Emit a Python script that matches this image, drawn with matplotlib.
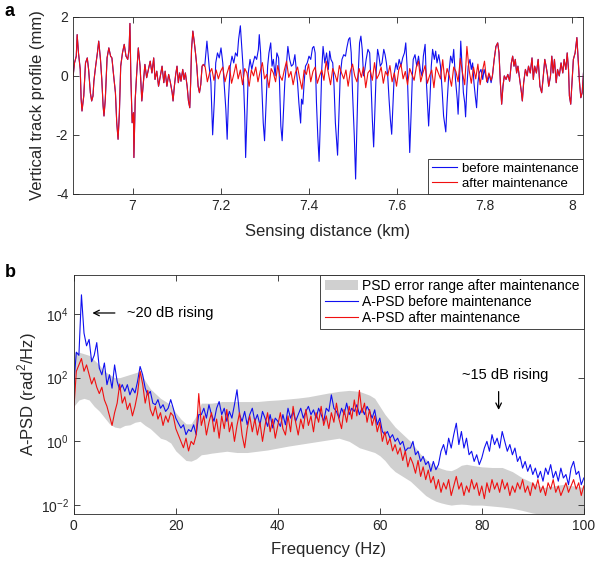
import numpy as np
import matplotlib
matplotlib.use('Agg')
import matplotlib.pyplot as plt
from matplotlib.ticker import FuncFormatter, LogFormatterMathtext, NullLocator, FixedLocator

plt.rcParams['font.family'] = ['Liberation Sans', 'DejaVu Sans']
plt.rcParams['mathtext.fontset'] = 'custom'
plt.rcParams['mathtext.rm'] = 'Liberation Sans'
plt.rcParams['axes.unicode_minus'] = False

# ---- panel a: vertical track profile (km, mm) ----
# part where both curves lie on top of each other (start of section)
shared_start_km = [6.864, 6.868, 6.872, 6.874, 6.877, 6.881, 6.883, 6.885, 6.889, 6.893,
                   6.897, 6.900, 6.904, 6.907, 6.910, 6.912, 6.916, 6.920, 6.923, 6.927,
                   6.930, 6.933, 6.935, 6.938, 6.942, 6.946, 6.950, 6.953, 6.957, 6.961,
                   6.964, 6.967, 6.970, 6.973, 6.977, 6.981, 6.985, 6.989, 6.992, 6.994,
                   6.996, 6.999, 7.002, 7.003, 7.006, 7.009, 7.013, 7.017, 7.021, 7.025,
                   7.028, 7.032, 7.036, 7.040, 7.044, 7.048, 7.051, 7.055, 7.059, 7.063,
                   7.067, 7.071, 7.074, 7.078, 7.082, 7.086, 7.090, 7.092, 7.095, 7.098,
                   7.101, 7.104, 7.107, 7.110, 7.114, 7.117, 7.120, 7.124, 7.127, 7.130,
                   7.132, 7.134, 7.137, 7.140, 7.143, 7.146, 7.149, 7.152, 7.155, 7.158,
                   7.161, 7.164]
shared_start_mm = [-0.12, 0.44, 0.67, 1.40, 0.78, 0.22, -0.78, -1.19, -0.68, 0.44,
                   0.61, 0.22, -0.57, -0.85, -0.68, -0.18, 0.33, 0.78, 1.18, 0.56,
                   -0.12, -1.02, -1.36, -0.79, 0.61, 0.95, 0.67, 0.61, 0.00, -0.57,
                   -1.59, -2.15, -1.25, 0.33, 0.78, 1.07, 0.67, 0.56, 0.90, 1.78,
                   0.00, -1.59, -1.25, -2.77, -0.79, 0.00, 0.95, 0.33, -0.85, -0.12,
                   0.39, -0.06, 0.22, 0.50, 0.10, 0.61, -0.12, 0.16, -0.35, 0.00,
                   0.33, -0.23, 0.16, -0.35, 0.05, -0.23, -0.57, -0.85, -0.35, 0.05,
                   0.33, -0.23, 0.10, -0.18, 0.22, -0.12, 0.10, -0.35, -0.85, -1.08,
                   -0.23, 0.90, 1.52, 1.18, 0.78, 0.33, -0.35, -0.57, -0.29, 0.33,
                   0.39, 0.33]

# before maintenance, middle part with the deep dips
before_mid_km = [7.169, 7.174, 7.178, 7.180, 7.182, 7.186, 7.189, 7.193, 7.197, 7.201,
                 7.205, 7.208, 7.212, 7.215, 7.218, 7.222, 7.226, 7.230, 7.234, 7.238,
                 7.241, 7.245, 7.251, 7.255, 7.257, 7.260, 7.263, 7.267, 7.271, 7.274,
                 7.278, 7.282, 7.286, 7.288, 7.291, 7.294, 7.297, 7.300, 7.303, 7.307,
                 7.310, 7.314, 7.317, 7.320, 7.324, 7.328, 7.332, 7.334, 7.337, 7.340,
                 7.343, 7.346, 7.350, 7.353, 7.357, 7.361, 7.365, 7.369, 7.372, 7.375,
                 7.378, 7.382, 7.384, 7.387, 7.390, 7.393, 7.397, 7.401, 7.405, 7.409,
                 7.412, 7.415, 7.418, 7.421, 7.424, 7.427, 7.430, 7.433, 7.437, 7.441,
                 7.445, 7.448, 7.451, 7.455, 7.458, 7.461, 7.466, 7.469, 7.472, 7.476,
                 7.480, 7.484, 7.487, 7.491, 7.494, 7.497, 7.500, 7.504, 7.507, 7.510,
                 7.513, 7.516, 7.519, 7.522, 7.525, 7.528, 7.531, 7.535, 7.539, 7.542,
                 7.545, 7.548, 7.551, 7.554, 7.557, 7.560, 7.563, 7.567, 7.571, 7.574,
                 7.577, 7.580, 7.583, 7.586, 7.589, 7.592, 7.595, 7.599, 7.602, 7.606,
                 7.610, 7.614, 7.618, 7.621, 7.624, 7.627, 7.630, 7.633, 7.636, 7.638,
                 7.642, 7.646, 7.650, 7.654, 7.658, 7.661, 7.665, 7.668, 7.671, 7.673,
                 7.676, 7.679, 7.682, 7.686, 7.689, 7.692, 7.696, 7.700, 7.704, 7.707,
                 7.712, 7.715, 7.719, 7.723, 7.727, 7.730, 7.734, 7.738, 7.740, 7.743,
                 7.746, 7.749, 7.752, 7.755, 7.757, 7.760, 7.763, 7.767, 7.770, 7.773,
                 7.776, 7.779, 7.782, 7.785, 7.788, 7.792, 7.796, 7.799, 7.803, 7.807,
                 7.811, 7.815]
before_mid_mm = [1.18, 0.33, -0.23, -1.13, -2.00, -0.79, 0.44, 0.78, 0.61, 0.95,
                 0.44, -0.23, -1.13, -2.15, -0.79, 0.33, 0.67, 0.44, 0.78, 0.67,
                 1.24, 1.70, 0.33, -1.36, -2.77, -1.36, 0.10, 0.56, 0.22, 0.44,
                 0.67, 0.56, 0.90, 1.40, 0.78, -0.46, -1.59, -2.20, -1.13, 0.33,
                 0.78, 1.12, 0.33, 0.56, 0.00, 0.78, 0.61, -0.23, -1.70, -2.20,
                 -1.25, -0.23, 0.44, 1.00, 0.56, 0.33, 0.39, 0.72, 0.22, -0.23,
                 -0.91, -1.60, -0.79, -0.96, -0.23, 0.33, 0.44, 0.67, 0.56, 0.95,
                 1.00, 0.78, -0.91, -2.04, -2.90, -1.47, 0.22, 1.00, 0.44, 0.78,
                 0.22, 0.84, 0.56, 0.44, -0.35, -1.59, -2.69, -1.36, 0.00, 0.56,
                 0.72, 0.67, 0.95, 1.24, 1.30, 0.78, -0.57, -2.04, -3.50, -1.70,
                 0.10, 1.12, 1.35, 0.90, 0.00, 0.22, 0.56, 0.90, 0.78, -0.23,
                 -1.47, -2.41, -1.13, 0.22, 0.90, 0.67, 0.33, 0.44, 0.90, 0.72,
                 0.44, 0.00, -0.79, -1.47, -1.98, -0.91, 0.10, 0.44, 0.22, 0.56,
                 0.33, 0.61, 0.78, 1.12, 0.33, -1.13, -2.60, -1.36, 0.00, 0.56,
                 0.72, 0.33, 0.67, 0.22, 0.00, 0.67, 1.07, -0.23, -1.13, -1.70,
                 -0.79, 0.33, 0.90, 0.56, 0.84, 0.44, 0.72, 0.33, -0.57, -1.36,
                 -1.90, -0.91, 0.10, 0.67, 0.44, 0.90, -0.12, -0.79, -1.30, -0.23,
                 1.18, 0.33, -0.57, -0.91, -1.39, -0.35, 0.33, 0.56, 0.22, 0.44,
                 -0.23, -0.68, -1.08, -0.23, 0.10, 0.22, -0.12, 0.22, 0.00, -0.23,
                 0.05, -0.23]

# after maintenance, middle part (every 5 m from 7.165 km)
after_mid_km = np.arange(7.165, 7.8151, 0.005)
after_mid_mm = [0.30, -0.20, 0.10, 0.25, -0.15, 0.20, -0.10, 0.15, 0.30, -0.20,
                0.10, 0.35, -0.25, 0.05, 0.40, -0.10, 0.20, -0.30, 0.25, 0.10,
                -0.35, 0.20, 0.00, 0.30, -0.20, 0.15, 0.45, -0.10, 0.05, -0.40,
                0.25, 0.10, -0.20, 0.35, 0.00, -0.15, 0.20, 0.50, -0.05, 0.15,
                -0.30, 0.10, 0.30, -0.10, -0.45, 0.20, 0.05, 0.40, -0.20, 0.15,
                0.30, -0.25, 0.00, 0.20, -0.15, 0.50, 0.10, -0.30, 0.25, 0.05,
                -0.20, 0.35, 0.10, -0.10, 0.20, -0.35, 0.15, 0.40, 0.00, -0.20,
                0.25, -0.05, 0.30, -0.40, 0.10, 0.20, -0.15, 0.45, -0.10, 0.05,
                0.30, -0.25, 0.15, 0.00, 0.35, -0.20, 0.10, -0.35, 0.20, 0.40,
                -0.10, 0.15, -0.30, 0.25, 0.05, -0.15, 0.30, 0.50, -0.20, 0.10,
                0.35, -0.25, 0.00, 0.20, -0.40, 0.30, 0.10, -0.10, 0.55, -0.20,
                0.25, 0.00, -0.35, 0.30, 0.15, -0.20, 0.60, 0.10, -0.30, 1.00,
                0.20, -0.25, 0.30, -0.10, 0.40, -0.30, 0.15, 0.50, -0.20, 0.10,
                -0.15]

# part where both curves coincide again (end of section)
shared_end_km = [7.818, 7.822, 7.826, 7.830, 7.833, 7.836, 7.839, 7.842, 7.845, 7.849,
                 7.853, 7.857, 7.861, 7.864, 7.867, 7.870, 7.873, 7.876, 7.880, 7.884,
                 7.886, 7.889, 7.893, 7.897, 7.900, 7.904, 7.908, 7.911, 7.914, 7.918,
                 7.922, 7.926, 7.930, 7.933, 7.937, 7.940, 7.943, 7.946, 7.950, 7.953,
                 7.956, 7.959, 7.963, 7.966, 7.970, 7.974, 7.978, 7.981, 7.985, 7.988,
                 7.991, 7.993, 7.996, 7.999, 8.002, 8.006, 8.010, 8.013, 8.016, 8.019,
                 8.022, 8.025]
shared_end_mm = [0.00, 0.56, 1.00, 1.12, 0.78, -0.23, -0.96, -0.35, 0.00, -0.12,
                 0.05, -0.18, 0.44, 0.67, 0.33, 0.56, 0.10, 0.33, -0.12, -0.57,
                 -0.85, -0.23, 0.22, 0.00, 0.33, 0.10, 0.61, -0.12, 0.33, 0.10,
                 0.56, -0.35, -0.57, -0.12, 0.56, 0.33, 0.05, -0.35, 0.00, 0.67,
                 0.10, 0.56, -0.23, 0.22, 0.00, 0.44, 0.10, 0.56, 0.22, 0.78,
                 0.22, -0.68, -0.96, -0.23, 0.56, 0.78, 1.30, 0.56, -0.23, -0.74,
                 -0.57, 0.10]

# ---- panel b: A-PSD in dB (rad^2/Hz), 0.5 Hz bins ----
freq_hz = np.arange(0, 100.01, 0.5)
psd_before_db = [18, 28, 27, 46, 34, 30, 32, 25, 27, 31,
                 23, 20.9, 24.6, 17.8, 20.9, 16.7, 24, 18.8, 16.2, 17.8,
                 15.7, 17.8, 14.6, 16.7, 15.2, 18.8, 23.5, 20.9, 16.7, 14.6,
                 15.7, 12, 11.5, 13.1, 10.4, 11.5, 9.4, 10.4, 13.1, 10.4,
                 7.3, 5.7, 4.2, 5.2, 2.1, 3.7, 3.1, 5.2, 2.1, 8.4,
                 8.4, 10.4, 7.3, 11.5, 8.4, 6.3, 10.4, 12.5, 8.4, 10.4,
                 6.3, 9.4, 7.3, 11.5, 16.2, 8.4, 6.3, 9.4, 5.2, 8.4,
                 10.4, 6.3, 8.4, 5.2, 9.4, 7.3, 4.7, 8.4, 4.2, 7.3,
                 6.3, 4.7, 8.4, 5.2, 10.4, 7.3, 9.4, 6.3, 8.4, 10.4,
                 7.3, 9.4, 11, 8.4, 9.9, 7.3, 10.4, 8.4, 6.3, 10.4,
                 9.4, 14.6, 10.4, 9.4, 7.3, 10.4, 8.4, 12, 8.4, 10.4,
                 9.4, 11.5, 8.4, 10.4, 8.4, 11, 9.4, 7.3, 9.9, 5.2,
                 7.3, 3.1, 2.1, 3.1, 1.0, 2.1, 0, 1.0, -1.0, 0,
                 -3.1, -2.1, -2.1, 0, -4.2, -3.1, -6.3, -4.7, -7.3, -6.3,
                 -9.4, -6.3, -8.9, -7.3, -3.1, -1.0, -4.2, 1.0, -2.1, 2.1,
                 5.7, -1.0, 3.1, -2.1, 1.0, -4.2, -3.1, -6.3, -4.2, -7.3,
                 -5.2, -2.1, 0, -3.1, 2.1, -1.0, 1.0, -2.1, 3.1, 0,
                 -3.1, -1.0, -4.2, -2.1, -6.3, -4.7, -8.4, -6.3, -9.4, -7.3,
                 -10.4, -8.4, -11.5, -9.4, -12.5, -8.4, -10.4, -7.3, -11.5, -9.4,
                 -12.5, -8.4, -11.5, -10.4, -13.6, -8.4, -6.3, -10.4, -9.4, -13.6,
                 -11.5]
psd_after_db = [10, 22, 24, 26, 22, 24, 21, 18, 20, 17,
                15, 17, 13, 11, 8, 5, 9, 12, 18, 12,
                14, 10, 12, 8, 11, 15, 22, 18, 12, 16,
                10, 8, 11, 7, 9, 5, 8, 6, 9, 8,
                4, 2, 0, -2, 1, -3, 0, -1, 2, 15,
                5, 8, 2, 6, 9, 3, 7, 1, 8, 4,
                10, 3, 6, 0, 5, 9, 2, -2, 4, 8,
                3, 7, 2, 6, 0, 5, 9, 3, 7, 1,
                5, 9, 4, 2, 8, 3, 11, 6, 2, 7,
                4, 10, 5, 8, 3, 9, 6, 11, 5, 8,
                4, 9, 6, 12, 7, 4, 10, 6, 11, 7,
                13, 8, 16, 9, 12, 6, 10, 5, 8, 3,
                6, 0, 3, -1, 1, -3, -1, -4, -2, -6,
                -3, -8, -5, -7, -10, -6, -11, -8, -12, -9,
                -13, -11, -15, -12, -16, -13, -15, -12, -17, -14,
                -11, -15, -13, -17, -14, -16, -12, -15, -13, -17,
                -14, -18, -13, -16, -12, -15, -13, -16, -12, -15,
                -13, -17, -14, -16, -13, -15, -12, -16, -14, -17,
                -13, -15, -12, -16, -14, -17, -13, -15, -12, -16,
                -14, -17, -15, -13, -16, -14, -12, -15, -13, -17,
                -14]

# error range of the after-maintenance PSD (dB)
band_hz = [0, 1, 2, 3, 4, 5, 6, 7, 8, 9, 10, 11, 12, 13, 14, 15, 16, 17, 18, 19,
           20, 21, 22, 23, 24, 25, 26, 27, 28, 29, 30, 32, 34, 36, 38, 40, 42, 44, 46, 48,
           50, 52, 54, 56, 58, 59, 60, 61, 62, 63, 64, 65, 66, 67, 68, 69, 70, 71, 72, 73,
           74, 75, 76, 77, 78, 80, 82, 84, 86, 88, 90, 92, 94, 96, 98, 100]
band_upper_db = [28, 28, 27.5, 27, 25.5, 24, 22, 21, 20, 20, 20.5, 21, 21.5, 22, 19, 16.5, 15, 13.5, 12.5, 11.5,
                 9, 7, 5.5, 5.5, 8, 12, 12, 12, 12.2, 12.5, 12.5, 12.5, 12.5, 12.5, 12.8, 13, 13.3, 13.6, 14, 14.6,
                 15.2, 15.7, 16, 15.7, 14.5, 13.5, 11, 8.5, 6.5, 4.5, 3, 1.5, 0, -2, -4, -5.5, -7, -7.8, -8.5, -9,
                 -9.2, -8.5, -7.5, -7.2, -7.5, -8, -8.2, -8.2, -9.5, -11.5, -13, -14.5, -14, -13.5, -14, -14.5]
band_lower_db = [11, 13, 13.5, 13, 11, 9.5, 7.5, 5.5, 4.5, 4.2, 5, 5.2, 6, 6.3, 5, 4, 2.5, 1, 0.5, -0.5,
                 -3, -4.5, -6, -6.2, -5.5, -4.2, -4, -3.7, -3.5, -3.3, -3.1, -3.5, -3.5, -3.1, -2.7, -2.1, -1.5, -1, -0.5, 0,
                 0.5, 1, 0, -2, -3, -3.5, -4.5, -6, -8, -9.5, -10.5, -11.5, -12.5, -14, -15.5, -17, -18, -18.8, -19.3, -19.7,
                 -20, -19.8, -19.7, -19.8, -20, -20, -20.3, -20.6, -21, -21.7, -22.5, -23, -23, -23, -23, -23]

text_col = '#262626'
blue = '#1010f0'
red = '#f01010'

fig = plt.figure(figsize=(6, 5.65), dpi=100)
ax1 = fig.add_axes([0.122, 0.657, 0.849, 0.313])
ax2 = fig.add_axes([0.123, 0.0897, 0.85, 0.424])

for ax in (ax1, ax2):
    ax.tick_params(direction='in', top=True, right=True, length=4, width=0.6,
                   labelsize=10, colors=text_col)
    for s in ax.spines.values():
        s.set_linewidth(0.6)
        s.set_color(text_col)

# panel a
before_km = np.concatenate([shared_start_km, before_mid_km, shared_end_km])
before_mm = np.concatenate([shared_start_mm, before_mid_mm, shared_end_mm])
after_km = np.concatenate([shared_start_km, after_mid_km, shared_end_km])
after_mm = np.concatenate([shared_start_mm, after_mid_mm, shared_end_mm])

ax1.plot(before_km, before_mm, color=blue, lw=0.8, label='before maintenance')
ax1.plot(after_km, after_mm, color=red, lw=0.8, label='after maintenance')
ax1.set_xlim(6.865, 8.023)
ax1.set_ylim(-4, 2)
ax1.set_xticks([7, 7.2, 7.4, 7.6, 7.8, 8])
ax1.set_yticks([-4, -2, 0, 2])
ax1.xaxis.set_major_formatter(FuncFormatter(lambda v, p: f'{v:g}'))
ax1.set_xlabel('Sensing distance (km)', fontsize=12, color=text_col, labelpad=8)
ax1.set_ylabel('Vertical track profile (mm)', fontsize=12, color=text_col, labelpad=8)
leg1 = ax1.legend(loc='lower right', fontsize=9.5, frameon=True, fancybox=False,
                  framealpha=1, edgecolor=text_col, borderaxespad=0,
                  handlelength=1.9, borderpad=0.3, labelspacing=0.2, handletextpad=0.4)
leg1.get_frame().set_linewidth(0.6)

# panel b
ax2.fill_between(band_hz, 10 ** (np.array(band_lower_db) / 10),
                 10 ** (np.array(band_upper_db) / 10), color='#d0d0d0', lw=0,
                 label='PSD error range after maintenance')
ax2.plot(freq_hz, 10 ** (np.array(psd_before_db) / 10), color=blue, lw=0.8,
         label='A-PSD before maintenance')
ax2.plot(freq_hz, 10 ** (np.array(psd_after_db) / 10), color=red, lw=0.8,
         label='A-PSD after maintenance')
ax2.set_yscale('log')
ax2.set_xlim(0, 100)
ax2.set_ylim(10 ** -2.29, 10 ** 5.23)
ax2.set_xticks([0, 20, 40, 60, 80, 100])
ax2.yaxis.set_major_locator(FixedLocator([1e-2, 1e0, 1e2, 1e4]))
ax2.yaxis.set_major_formatter(LogFormatterMathtext())
ax2.yaxis.set_minor_locator(NullLocator())
ax2.set_xlabel('Frequency (Hz)', fontsize=12, color=text_col, labelpad=6)
ax2.set_ylabel('A-PSD (rad$^2$/Hz)', fontsize=12, color=text_col, labelpad=1)
leg2 = ax2.legend(loc='upper right', fontsize=10, frameon=True, fancybox=False,
                  framealpha=1, edgecolor=text_col, borderaxespad=0,
                  handlelength=2.4, borderpad=0.3, labelspacing=0.15, handletextpad=0.3)
leg2.get_frame().set_linewidth(0.6)

ax2.annotate('', xy=(3.1, 10 ** 4.03), xytext=(8.6, 10 ** 4.03),
             arrowprops=dict(arrowstyle='->', color='black', lw=0.9))
ax2.text(10.4, 10 ** 4.03, '~20 dB rising', fontsize=10.5, va='center', ha='left')
ax2.text(84.6, 10 ** 2.09, '~15 dB rising', fontsize=10.5, va='center', ha='center')
ax2.annotate('', xy=(83.3, 10 ** 0.9), xytext=(83.3, 10 ** 1.65),
             arrowprops=dict(arrowstyle='->', color='black', lw=0.9))

fig.text(0.008, 0.980, 'a', fontsize=13, weight='bold', va='center')
fig.text(0.008, 0.517, 'b', fontsize=13, weight='bold', va='center')

fig.savefig('out.png', dpi=100)
